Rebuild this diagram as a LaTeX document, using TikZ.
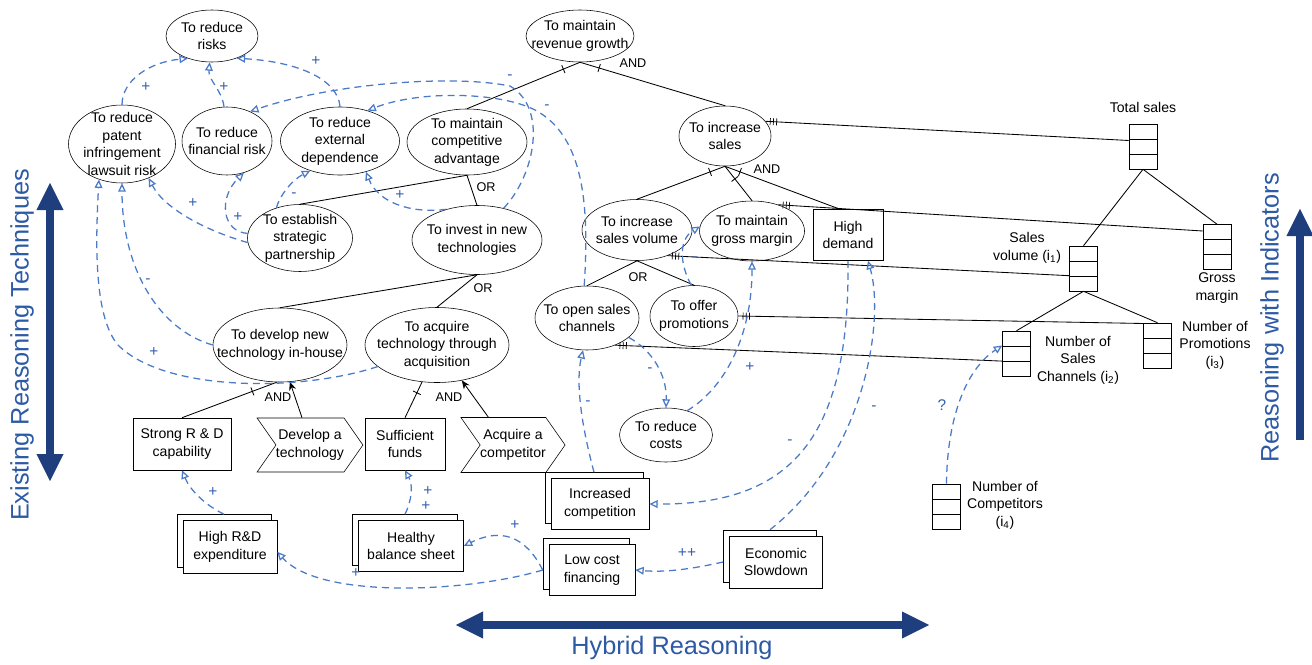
\documentclass[tikz,border=0pt]{standalone}
\usepackage{fontspec}
\setmainfont{Liberation Sans}
\usetikzlibrary{shapes.geometric,shapes.symbols,shadows,arrows.meta,decorations.markings}

\definecolor{linkblue}{RGB}{74,122,200}
\definecolor{labblue}{RGB}{50,95,180}
\definecolor{navy}{RGB}{30,62,125}
\definecolor{titleblue}{RGB}{45,90,165}

\tikzset{
	goal/.style 2 args={draw, ellipse, inner sep=0pt, minimum width=#1*0.025cm, minimum height=#2*0.025cm},
	gtext/.style={align=center, inner sep=0pt},
	taskbox/.style 2 args={draw, rectangle, align=center, inner sep=0pt, minimum width=#1*0.025cm, minimum height=#2*0.025cm},
	actbox/.style 2 args={draw, signal, signal from=west, signal to=east, signal pointer angle=110, align=center, inner sep=0pt, minimum width=#1*0.025cm, minimum height=#2*0.025cm},
	sitbox/.style 2 args={draw, fill=white, align=center, inner sep=0pt, minimum width=#1*0.025cm, minimum height=#2*0.025cm, copy shadow={shadow xshift=-0.15cm, shadow yshift=0.15cm}},
	indbox/.style={draw, fill=white, inner sep=0pt, minimum width=0.7cm, minimum height=1.125cm,
		path picture={\draw ([yshift=-0.375cm]path picture bounding box.north west) -- ([yshift=-0.375cm]path picture bounding box.north east)
			([yshift=0.375cm]path picture bounding box.south west) -- ([yshift=0.375cm]path picture bounding box.south east);}},
	indtext/.style={align=center, inner sep=0pt},
	lab/.style={font=\fontsize{9}{9}\selectfont, inner sep=0pt},
	declink/.style={draw, line width=0.6pt},
	andtick/.style={postaction={decorate, decoration={markings, mark=at position #1 with {\draw[line width=0.6pt] (0,-3pt) -- (0,3pt);}}}},
	indlink/.style={declink, postaction={decorate, decoration={markings,
		mark=at position 0.12cm with {\draw[line width=0.5pt] (0,-2.5pt) -- (0,2.5pt);},
		mark=at position 0.2cm with {\draw[line width=0.5pt] (0,-2.5pt) -- (0,2.5pt);},
		mark=at position 0.28cm with {\draw[line width=0.5pt] (0,-2.5pt) -- (0,2.5pt);}}}},
	contrib/.style={draw=linkblue, line width=0.9pt, dash pattern=on 5pt off 3.5pt, -{Triangle[open, length=6pt, width=5.5pt]}},
	clab/.style={text=labblue, inner sep=0pt, font=\fontsize{11}{11}\selectfont},
	bigarrow/.style={navy, line width=0.19cm, {Triangle[length=0.7cm,width=0.62cm]}-{Triangle[length=0.7cm,width=0.62cm]}},
	bigtext/.style={text=titleblue, inner sep=0pt, font=\fontsize{18}{18}\selectfont}
}

\begin{document}
\begin{tikzpicture}[x=0.025cm, y=-0.025cm, font=\fontsize{10}{12.5}\selectfont]

	\useasboundingbox (0,0) rectangle (1312,664);

	% goals
	\node[goal={92}{52}, label={[gtext]center:To reduce\\risks}] (risk) at (212,36) {};
	\node[goal={107}{78}, label={[gtext]center:To reduce\\patent\\infringement\\lawsuit risk}] (patent) at (122,144) {};
	\node[goal={90}{68}, label={[gtext]center:To reduce\\financial risk}] (finrisk) at (227,141) {};
	\node[goal={119}{68}, label={[gtext]center:To reduce\\external\\dependence}] (extdep) at (340,141) {};
	\node[goal={120}{66}, label={[gtext]center:To maintain\\competitive\\advantage}] (compadv) at (467,142) {};
	\node[goal={108}{52}, label={[gtext]center:To maintain\\revenue growth}] (revenue) at (580,36) {};
	\node[goal={92}{60}, label={[gtext]center:To increase\\sales}] (incsales) at (725,136) {};
	\node[goal={105}{67}, label={[gtext]center:To establish\\strategic\\partnership}] (partner) at (300,238) {};
	\node[goal={130}{69}, label={[gtext]center:To invest in new\\technologies}] (invest) at (477,240) {};
	\node[goal={134}{74}, label={[gtext]center:To develop new\\technology in-house}] (inhouse) at (280,345) {};
	\node[goal={144}{75}, label={[gtext]center:To acquire\\technology through\\acquisition}] (acquire) at (437,345) {};
	\node[goal={110}{61}, label={[gtext]center:To increase\\sales volume}] (volume) at (637,230) {};
	\node[goal={105}{60}, label={[gtext]center:To maintain\\gross margin}] (margin) at (752,231) {};
	\node[goal={104}{64}, label={[gtext]center:To open sales\\channels}] (channels) at (587,318) {};
	\node[goal={88}{61}, label={[gtext]center:To offer\\promotions}] (promo) at (694,316) {};
	\node[goal={93}{54}, label={[gtext]center:To reduce\\costs}] (costs) at (666,435) {};

	% tasks and resources
	\node[taskbox={70}{51}] (demand) at (848,235) {High\\demand};
	\node[taskbox={98}{52}] (strongrd) at (182,444) {Strong R \& D\\capability};
	\node[taskbox={80}{52}] (funds) at (405,444) {Sufficient\\funds};
	\node[actbox={105}{54}] (devtech) at (310,445) {Develop a\\technology};
	\node[actbox={100}{55}] (acqcomp) at (513,445) {Acquire a\\competitor};

	% situations
	\node[sitbox={94}{53}] (rdexp) at (230,547) {High R\&D\\expenditure};
	\node[sitbox={105}{51}] (balance) at (411,546) {Healthy\\balance sheet};
	\node[sitbox={98}{51}] (competition) at (600,504) {Increased\\competition};
	\node[sitbox={86}{51}] (financing) at (592,570) {Low cost\\financing};
	\node[sitbox={93}{52}] (slowdown) at (776,562) {Economic\\Slowdown};

	% indicators
	\node[indbox] (itotal) at (1143,146.5) {};
	\node[indtext] (ttotal) at (1143,107) {Total sales};
	\node[indbox] (imargin) at (1217,247) {};
	\node[indtext] (tmargin) at (1217,288) {Gross\\margin};
	\node[indbox] (ivolume) at (1083.5,268.5) {};
	\node[indtext] (tvolume) at (1027,248) {Sales\\volume (i\textsubscript{1})};
	\node[indbox] (ichannels) at (1016.5,353.5) {};
	\node[indtext] (tchannels) at (1078,360) {Number of\\Sales\\Channels (i\textsubscript{2})};
	\node[indbox] (ipromo) at (1157.5,345.5) {};
	\node[indtext] (tpromo) at (1215,345) {Number of\\Promotions\\(i\textsubscript{3})};
	\node[indbox] (icompet) at (946.5,506.5) {};
	\node[indtext] (tcompet) at (1005,505) {Number of\\Competitors\\(i\textsubscript{4})};

	% decompositions
	\draw[declink, andtick=0.45cm] (revenue.south) -- (compadv.north);
	\draw[declink, andtick=0.5cm] (revenue.south) -- (incsales.north);
	\node[lab] (andrev) at (633,63) {AND};
	\draw[declink] (compadv.south) -- (partner.north);
	\draw[declink] (compadv.south) -- (invest.north);
	\node[lab] (orcomp) at (486,187) {OR};
	\draw[declink] (invest.south) -- (inhouse.north);
	\draw[declink] (invest.south) -- (acquire.north);
	\node[lab] (orinv) at (483,288) {OR};
	\draw[declink, andtick=0.65cm] (inhouse.265) -- (strongrd.north);
	\draw[declink, -{Stealth[length=6pt,width=5pt]}] ([xshift=-0.2cm]devtech.north) -- (inhouse.285);
	\node[lab] (andhouse) at (278,397) {AND};
	\draw[declink, andtick=0.3cm] (acquire.248) -- (funds.north);
	\draw[declink, -{Stealth[length=6pt,width=5pt]}] ([xshift=0.7cm]acqcomp.north west) -- (acquire.305);
	\node[lab] (andacq) at (449,397) {AND};
	\draw[declink, andtick=0.4cm] (incsales.south) -- (volume.north);
	\draw[declink, andtick=0.4cm] (incsales.south) -- (margin.north);
	\draw[declink, andtick=0.4cm] (incsales.south) -- ([xshift=-0.2cm]demand.north);
	\node[lab] (andsales) at (767,169) {AND};
	\draw[declink] (volume.south) -- (channels.north);
	\draw[declink] (volume.south) -- (promo.north);
	\node[lab] (orvol) at (638,277) {OR};

	% goals to indicators
	\draw[indlink] (incsales.20) -- ([yshift=0.15cm]itotal.west);
	\draw[indlink] (margin.45) -- ([yshift=0.4cm]imargin.west);
	\draw[indlink] (volume.-40) -- ([yshift=-0.18cm]ivolume.west);
	\draw[indlink] (promo.east) -- ([yshift=0.55cm]ipromo.west);
	\draw[indlink] (channels.-44) -- ([yshift=-0.19cm]ichannels.west);
	\draw[declink] (itotal.south) -- (ivolume.north);
	\draw[declink] (itotal.south) -- (imargin.north);
	\draw[declink] (ivolume.south) -- (ichannels.north);
	\draw[declink] (ivolume.south) -- (ipromo.north);

	% contributions
	\draw[contrib] (patent.north) .. controls (122,80) and (150,62) .. (risk.223);
	\node[clab] (c1) at (146,87) {+};
	\draw[contrib] (finrisk.95) .. controls (222,90) and (208,80) .. (risk.265);
	\node[clab] (c2) at (224,87) {+};
	\draw[contrib] (extdep.north) .. controls (338,80) and (300,62) .. (risk.318);
	\node[clab] (c3) at (316,61) {+};
	\draw[contrib] (invest.50) .. controls (535,175) and (548,108) .. (510,86) .. controls (450,74) and (330,84) .. (finrisk.52);
	\node[clab] (c4) at (510,77) {-};
	\draw[contrib] (channels.95) .. controls (590,200) and (582,135) .. (535,110) .. controls (500,92) and (420,90) .. (extdep.48);
	\node[clab] (c5) at (547,107) {-};
	\draw[contrib] (invest.135) .. controls (410,214) and (378,202) .. (extdep.-50);
	\node[clab] (c6) at (400,195) {+};
	\draw[contrib] (partner.128) .. controls (280,195) and (292,180) .. (extdep.225);
	\node[clab] (c7) at (294,195) {-};
	\draw[contrib] (partner.175) .. controls (222,232) and (218,198) .. (finrisk.-62);
	\node[clab] (c8) at (238,217) {+};
	\draw[contrib] (partner.185) .. controls (210,232) and (165,210) .. (patent.-52);
	\node[clab] (c9) at (193,203) {+};
	\draw[contrib] (inhouse.west) .. controls (160,330) and (122,270) .. (patent.south);
	\node[clab] (c10) at (148,281) {-};
	\draw[contrib] (acquire.200) .. controls (300,392) and (165,392) .. (118,345) .. controls (95,318) and (95,250) .. (patent.237);
	\node[clab] (c11) at (154,352) {+};
	\draw[contrib] ([xshift=-0.15cm,yshift=0.15cm]rdexp.north) .. controls (205,505) and (190,490) .. (strongrd.south);
	\node[clab] (c12) at (213,492) {+};
	\draw[contrib] ([xshift=-0.15cm,yshift=0.15cm]balance.north) .. controls (412,500) and (413,485) .. (funds.south);
	\node[clab] (c13a) at (428,491) {+};
	\node[clab] (c13b) at (426,506) {+};
	\draw[contrib] ([xshift=-0.15cm]financing.west) .. controls (525,535) and (500,528) .. (balance.east);
	\node[clab] (c14) at (515,525) {+};
	\draw[contrib] ([xshift=-0.15cm]financing.west) .. controls (470,592) and (320,600) .. ([yshift=-0.12cm]rdexp.east);
	\node[clab] (c15) at (356,573) {+};
	\draw[contrib] ([xshift=-0.15cm]slowdown.west) .. controls (700,567) and (670,573) .. (financing.east);
	\node[clab] (c16) at (687,553) {++};
	\draw[contrib] ([xshift=-0.15cm,yshift=0.15cm]slowdown.north) .. controls (865,455) and (885,320) .. ([xshift=0.5cm]demand.south);
	\node[clab] (c17) at (874,408) {-};
	\draw[contrib] (demand.south) .. controls (850,440) and (790,505) .. (competition.east);
	\node[clab] (c18) at (790,442) {-};
	\draw[contrib] ([xshift=-0.15cm,yshift=0.15cm]competition.north) .. controls (580,420) and (576,380) .. (channels.263);
	\node[clab] (c19) at (588,403) {-};
	\draw[contrib] (channels.-25) .. controls (652,350) and (667,375) .. (costs.north);
	\node[clab] (c20) at (650,370) {-};
	\draw[contrib] (costs.49) .. controls (722,390) and (752,340) .. (margin.south);
	\node[clab] (c21) at (750,367) {+};
	\draw[contrib] (promo.95) .. controls (680,265) and (678,240) .. (margin.175);
	\node[clab] (c22) at (695,259) {-};
	\draw[contrib] (icompet.north) .. controls (947,420) and (965,370) .. ([yshift=0.2cm]ichannels.west);
	\node[clab] (c23) at (942,405) {?};

	% reasoning arrows
	\coordinate (ltop) at (50,182);
	\coordinate (lbot) at (50,482);
	\draw[bigarrow] (ltop) -- (lbot);
	\node[bigtext, rotate=90] (lefttitle) at (22,345) {Existing Reasoning Techniques};
	\coordinate (rtop) at (1300,208);
	\coordinate (rbot) at (1300,440);
	\draw[bigarrow, {Triangle[length=0.7cm,width=0.62cm]}-] (rtop) -- (rbot);
	\node[bigtext, rotate=90] (righttitle) at (1272,318) {Reasoning with Indicators};
	\coordinate (bleft) at (455,625);
	\coordinate (bright) at (930,625);
	\draw[bigarrow] (bleft) -- (bright);
	\node[bigtext] (bottomtitle) at (672,648) {Hybrid Reasoning};

\end{tikzpicture}
\end{document}
